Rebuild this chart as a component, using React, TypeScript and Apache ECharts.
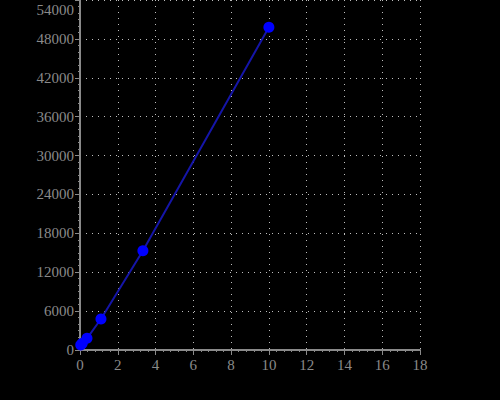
import React, { useEffect, useRef } from "react";
import * as echarts from "echarts";

const xValues = [0.04, 0.12, 0.37, 1.11, 3.33, 10];
const yValues = [770, 1030, 1800, 4780, 15300, 49800];
const xTicks = [0, 2, 4, 6, 8, 10, 12, 14, 16, 18];
const yTicks = [0, 6000, 12000, 18000, 24000, 30000, 36000, 42000, 48000, 54000];

export default function App() {
  const ref = useRef<HTMLDivElement>(null);
  useEffect(() => {
    const chart = echarts.init(ref.current!, null, { renderer: "svg" });
    const labelStyle = {
      color: "#8a8a8a",
      fontFamily: "Liberation Serif",
      fontSize: 15,
    };
    const gridLine = {
      show: true,
      lineStyle: { color: "#bdbdbd", type: [1, 5] as any, width: 1 },
    };
    chart.setOption({
      animation: false,
      backgroundColor: "#000000",
      grid: { left: 80, right: 80, top: 0, bottom: 50 },
      xAxis: {
        type: "value",
        min: xTicks[0],
        max: xTicks[xTicks.length - 1],
        interval: 2,
        axisLine: { show: true, lineStyle: { color: "#8a8a8a", width: 2 } },
        axisTick: { show: true, length: 5, lineStyle: { color: "#8a8a8a" } },
        minorTick: { show: true, splitNumber: 5, length: 2, lineStyle: { color: "#8a8a8a" } },
        axisLabel: { ...labelStyle, margin: 7 },
        splitLine: gridLine,
      },
      yAxis: {
        type: "value",
        min: yTicks[0],
        max: yTicks[yTicks.length - 1],
        interval: 6000,
        axisLine: { show: true, lineStyle: { color: "#8a8a8a", width: 2 } },
        axisTick: { show: true, length: 5, lineStyle: { color: "#8a8a8a" } },
        minorTick: { show: true, splitNumber: 6, length: 2, lineStyle: { color: "#8a8a8a" } },
        axisLabel: {
          ...labelStyle,
          margin: 6,
          formatter: (v: number) =>
            v === yTicks[yTicks.length - 1] ? "{t|" + v + "}" : String(v),
          rich: {
            t: { ...labelStyle, padding: [20, 0, 0, 0] },
          },
        },
        splitLine: gridLine,
      },
      series: [
        {
          type: "line",
          data: xValues.map((x, i) => [x, yValues[i]]),
          symbol: "circle",
          symbolSize: 11,
          itemStyle: { color: "#0000ff" },
          lineStyle: { color: "#1515a8", width: 2 },
          z: 3,
        },
      ],
    });
    return () => chart.dispose();
  }, []);
  return <div ref={ref} style={{ width: 500, height: 400, position: "absolute", left: 0, top: 0 }} />;
}
